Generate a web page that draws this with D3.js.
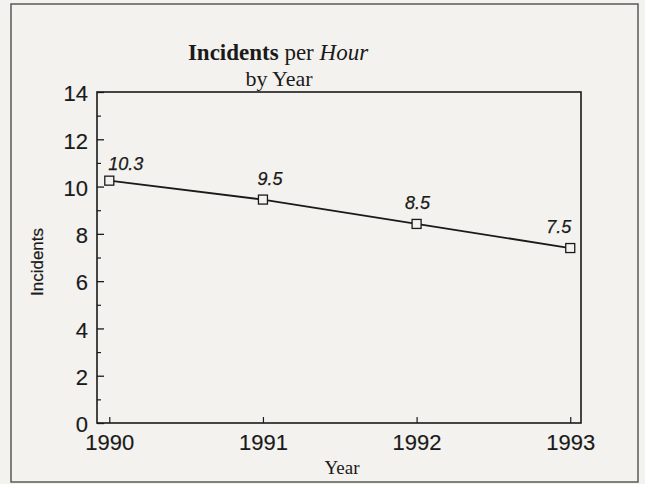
<!DOCTYPE html>
<html>
<head>
<meta charset="utf-8">
<script src="https://cdn.jsdelivr.net/npm/d3@7"></script>
<style>
  html, body { margin: 0; padding: 0; background: #f3f2ee; }
  svg { display: block; }
</style>
</head>
<body>
<svg id="chart"></svg>
<script>
// data
const years = [1990, 1991, 1992, 1993];
const incidents = [10.25, 9.45, 8.42, 7.4];
const pointLabels = ["10.3", "9.5", "8.5", "7.5"];
const yMajorTicks = [0, 2, 4, 6, 8, 10, 12, 14];
const yMinorTicks = [1, 3, 5, 7, 9, 11, 13];

const width = 645, height = 484;
const plot = { left: 97, right: 581, top: 92, bottom: 423 };
const sans = "'Liberation Sans', Arial, sans-serif";
const serif = "'Liberation Serif', 'Times New Roman', serif";
const ink = "#1a1a1a";

const svg = d3.select("#chart")
  .attr("width", width)
  .attr("height", height);

// outer frame
svg.append("rect")
  .attr("x", 11).attr("y", 4)
  .attr("width", 627).attr("height", 478)
  .attr("fill", "#f3f2ee")
  .attr("stroke", "#5a5a5a")
  .attr("stroke-width", 1.5);

const x = d3.scaleLinear()
  .domain([1989.92, 1993.07])
  .range([plot.left, plot.right]);

const y = d3.scaleLinear()
  .domain([0, 14])
  .range([plot.bottom, plot.top]);

// plot box
svg.append("rect")
  .attr("x", plot.left).attr("y", plot.top)
  .attr("width", plot.right - plot.left)
  .attr("height", plot.bottom - plot.top)
  .attr("fill", "none")
  .attr("stroke", ink)
  .attr("stroke-width", 1.6);

// y axis, ticks pointing inside
const yAxis = svg.append("g")
  .attr("transform", `translate(${plot.left},0)`)
  .call(d3.axisLeft(y).tickValues(yMajorTicks).tickSize(-7).tickPadding(9));
yAxis.select(".domain").remove();
yAxis.selectAll("line").attr("stroke", ink).attr("stroke-width", 1.3);
yAxis.selectAll("text")
  .attr("font-family", sans)
  .attr("font-size", 22)
  .attr("fill", ink)
  .attr("stroke", ink).attr("stroke-width", 0.15)
  .attr("dy", "0.4em");

const yMinor = svg.append("g")
  .attr("transform", `translate(${plot.left},0)`)
  .call(d3.axisLeft(y).tickValues(yMinorTicks).tickSize(-4).tickFormat(""));
yMinor.select(".domain").remove();
yMinor.selectAll("line").attr("stroke", ink).attr("stroke-width", 1.2);

// x axis
const xAxis = svg.append("g")
  .attr("transform", `translate(0,${plot.bottom})`)
  .call(d3.axisBottom(x).tickValues(years).tickFormat(d3.format("d")).tickSize(-6).tickPadding(12));
xAxis.select(".domain").remove();
xAxis.selectAll("line").attr("stroke", ink).attr("stroke-width", 1.2);
xAxis.selectAll("text")
  .attr("font-family", sans)
  .attr("font-size", 22)
  .attr("fill", ink)
  .attr("stroke", ink).attr("stroke-width", 0.15)
  .attr("dy", "0.7em");

// line
const line = d3.line()
  .x((d, i) => x(years[i]))
  .y(d => y(d));

svg.append("path")
  .datum(incidents)
  .attr("d", line)
  .attr("fill", "none")
  .attr("stroke", ink)
  .attr("stroke-width", 1.8);

// markers
svg.selectAll(".marker")
  .data(incidents)
  .enter()
  .append("rect")
  .attr("class", "marker")
  .attr("x", (d, i) => x(years[i]) - 4.5)
  .attr("y", d => y(d) - 4.5)
  .attr("width", 9).attr("height", 9)
  .attr("fill", "#f3f2ee")
  .attr("stroke", ink)
  .attr("stroke-width", 1.3);

// value labels
const last = incidents.length - 1;
svg.selectAll(".val")
  .data(incidents)
  .enter()
  .append("text")
  .attr("class", "val")
  .attr("x", (d, i) => x(years[i]) + (i === 0 ? -1 : i === 1 ? 7 : 1))
  .attr("y", (d, i) => y(d) - (i === 0 ? 11 : 15))
  .attr("text-anchor", (d, i) => i === 0 ? "start" : i === last ? "end" : "middle")
  .attr("font-family", sans)
  .attr("font-style", "italic")
  .attr("font-size", 18)
  .attr("fill", ink)
  .attr("stroke", ink).attr("stroke-width", 0.25)
  .text((d, i) => pointLabels[i]);

// title
const title = svg.append("text")
  .attr("x", 278).attr("y", 60)
  .attr("text-anchor", "middle")
  .attr("font-family", serif)
  .attr("font-size", 23)
  .attr("fill", ink);
title.append("tspan").attr("font-weight", "bold").text("Incidents");
title.append("tspan").text(" per ");
title.append("tspan").attr("font-style", "italic").text("Hour");

svg.append("text")
  .attr("x", 279).attr("y", 86)
  .attr("text-anchor", "middle")
  .attr("font-family", serif)
  .attr("font-size", 22)
  .attr("fill", ink)
  .text("by Year");

// axis titles
svg.append("text")
  .attr("x", 342).attr("y", 474)
  .attr("text-anchor", "middle")
  .attr("font-family", serif)
  .attr("font-size", 19)
  .attr("fill", ink)
  .text("Year");

svg.append("text")
  .attr("transform", "translate(43,262) rotate(-90)")
  .attr("text-anchor", "middle")
  .attr("font-family", sans)
  .attr("font-size", 17)
  .attr("fill", ink)
  .attr("stroke", ink).attr("stroke-width", 0.2)
  .text("Incidents");
</script>
</body>
</html>
